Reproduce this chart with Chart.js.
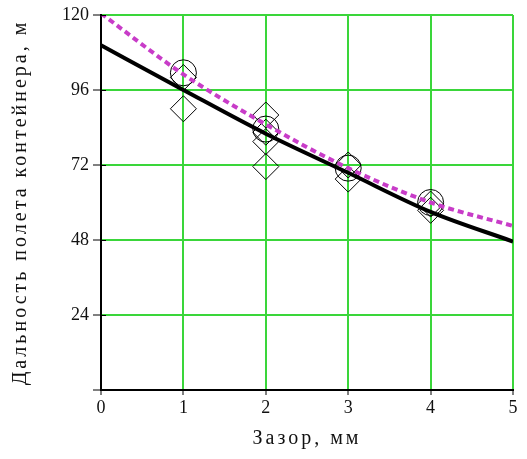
<!DOCTYPE html>
<html>
<head>
<meta charset="utf-8">
<script src="https://cdn.jsdelivr.net/npm/chart.js@4.4.1/dist/chart.umd.min.js"></script>
<style>
  html, body { margin: 0; padding: 0; background: #ffffff; }
  #wrap { width: 527px; height: 459px; position: relative; }
</style>
</head>
<body>
<div id="wrap"><canvas id="c" width="527" height="459"></canvas></div>
<script>
// ---- data ----
const gapMm = [0, 1, 2, 3, 4, 5];
const fitSolid = [110.3, 96, 82, 69.5, 57, 47.5];
const fitDashed = [120.5, 101, 85, 71, 60, 52.5];
const expGap = [1, 1, 2, 2, 2, 2, 3, 3, 4, 4];
const expRange = [100, 90, 88, 82.5, 79.5, 71.5, 72, 67.5, 59.5, 57.5];
const meanGap = [1, 2, 3, 4];
const meanRange = [101.5, 83.5, 71, 60];
const xTicks = [0, 1, 2, 3, 4, 5];
const yTicks = [0, 24, 48, 72, 96, 120];
const xTitle = 'Зазор, мм';
const yTitle = 'Дальность полета контейнера, м';

const pts = (xs, ys) => xs.map((x, i) => ({ x: x, y: ys[i] }));
const GREEN = '#3ad63a';
const FONT = "'Liberation Serif', 'DejaVu Serif', serif";

const titleSpacing = {
  id: 'titleSpacing',
  beforeDraw(chart) {
    ['x', 'y'].forEach(id => {
      const s = chart.scales[id];
      if (s && !s._lsPatched) {
        const orig = s.drawTitle.bind(s);
        s.drawTitle = function () {
          const ctx = this.ctx;
          ctx.save();
          ctx.letterSpacing = '3px';
          orig();
          ctx.restore();
        };
        s._lsPatched = true;
      }
    });
  },
  // short inner part of the y tick marks, crossing the axis line
  afterDatasetsDraw(chart) {
    const y = chart.scales.y, x = chart.scales.x;
    const ctx = chart.ctx;
    ctx.save();
    ctx.strokeStyle = '#000000';
    ctx.lineWidth = 1;
    ctx.beginPath();
    yTicks.forEach(v => {
      if (v === 0) return;
      const py = Math.round(y.getPixelForValue(v)) + 0.5;
      ctx.moveTo(x.left, py);
      ctx.lineTo(x.left + 5, py);
    });
    ctx.stroke();
    ctx.restore();
  }
};

new Chart(document.getElementById('c'), {
  type: 'scatter',
  data: {
    datasets: [
      {
        label: 'fit dashed',
        data: pts(gapMm, fitDashed),
        showLine: true,
        borderColor: '#c83cc8',
        borderWidth: 4,
        borderDash: [6, 4],
        pointRadius: 0,
        cubicInterpolationMode: 'monotone',
        order: 1
      },
      {
        label: 'fit solid',
        data: pts(gapMm, fitSolid),
        showLine: true,
        borderColor: '#000000',
        borderWidth: 4,
        pointRadius: 0,
        cubicInterpolationMode: 'monotone',
        order: 2
      },
      {
        label: 'mean',
        data: pts(meanGap, meanRange),
        showLine: false,
        pointStyle: 'circle',
        pointRadius: 13,
        pointBorderWidth: 1,
        pointBorderColor: '#000000',
        pointBackgroundColor: 'rgba(0,0,0,0)',
        order: 3
      },
      {
        label: 'experiment',
        data: pts(expGap, expRange),
        showLine: false,
        pointStyle: 'rectRot',
        pointRadius: 13,
        pointBorderWidth: 1,
        pointBorderColor: '#000000',
        pointBackgroundColor: 'rgba(0,0,0,0)',
        order: 4
      }
    ]
  },
  options: {
    responsive: false,
    animation: false,
    events: [],
    layout: { padding: { left: 0, top: 15, right: 7, bottom: 0 } },
    plugins: { legend: { display: false }, tooltip: { enabled: false } },
    scales: {
      x: {
        type: 'linear',
        min: 0, max: 5,
        afterFit: s => { s.height = 69; },
        afterBuildTicks: s => { s.ticks = xTicks.map(v => ({ value: v })); },
        ticks: {
          color: '#111111',
          font: { family: FONT, size: 18 },
          padding: 2,
          maxRotation: 0,
          autoSkip: false
        },
        grid: {
          color: GREEN,
          lineWidth: 2,
          tickColor: '#000000',
          tickWidth: 1,
          tickLength: 5,
          drawTicks: true
        },
        border: { color: '#000000', width: 2 },
        title: {
          display: true,
          text: xTitle,
          color: '#111111',
          font: { family: FONT, size: 20 },
          padding: { top: 0, bottom: 8 }
        }
      },
      y: {
        type: 'linear',
        min: 0, max: 120,
        afterFit: s => { s.width = 101; },
        afterBuildTicks: s => { s.ticks = yTicks.map(v => ({ value: v })); },
        ticks: {
          color: '#111111',
          font: { family: FONT, size: 18 },
          padding: 4,
          callback: v => (v === 0 ? '' : String(v)),
          autoSkip: false
        },
        grid: {
          color: GREEN,
          lineWidth: 2,
          tickColor: '#000000',
          tickWidth: 1,
          tickLength: 8,
          drawTicks: true
        },
        border: { color: '#000000', width: 2 },
        title: {
          display: true,
          text: yTitle,
          color: '#111111',
          font: { family: FONT, size: 20 },
          padding: { top: 9, bottom: 0 }
        }
      }
    }
  },
  plugins: [titleSpacing]
});
</script>
</body>
</html>
